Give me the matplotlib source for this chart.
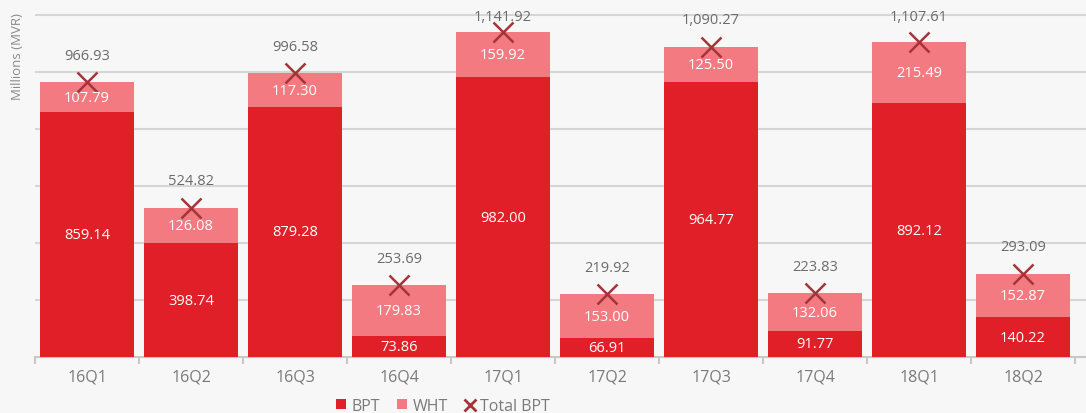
import matplotlib
matplotlib.use("Agg")
import matplotlib.pyplot as plt
from matplotlib.lines import Line2D
from matplotlib.patches import Patch
import numpy as np

categories = ["16Q1", "16Q2", "16Q3", "16Q4", "17Q1", "17Q2", "17Q3", "17Q4", "18Q1", "18Q2"]
bpt = [859.14, 398.74, 879.28, 73.86, 982.00, 66.91, 964.77, 91.77, 892.12, 140.22]
wht = [107.79, 126.08, 117.30, 179.83, 159.92, 153.00, 125.50, 132.06, 215.49, 152.87]
total_bpt = [966.93, 524.82, 996.58, 253.69, 1141.92, 219.92, 1090.27, 223.83, 1107.61, 293.09]

plt.rcParams['font.family'] = ['Open Sans', 'DejaVu Sans']

C_BPT = "#e01f28"
C_WHT = "#f27a80"
C_X = "#a3353a"
C_TXT = "#6b6b6b"

fig = plt.figure(figsize=(10.86, 4.14), dpi=100, facecolor="#f7f7f7")
ax = fig.add_axes([35/1086, (414-358)/414, (1086-35)/1086, (358-15)/414])
ax.set_facecolor("none")

x = np.arange(len(categories))
w = 0.91
ax.bar(x, bpt, w, color=C_BPT, zorder=3)
ax.bar(x, wht, w, bottom=bpt, color=C_WHT, zorder=3)
ax.plot(x, total_bpt, linestyle="none", marker="x", markersize=15, markeredgewidth=1.8,
        color=C_X, zorder=4)

for i in range(len(categories)):
    ax.text(x[i], bpt[i] / 2, f"{bpt[i]:,.2f}", ha="center", va="center",
            color="white", fontsize=10.5, zorder=5)
    ax.text(x[i], bpt[i] + wht[i] / 2, f"{wht[i]:,.2f}", ha="center", va="center",
            color="white", fontsize=10.5, zorder=5)
    ax.text(x[i], min(total_bpt[i] + 94, 1195), f"{total_bpt[i]:,.2f}", ha="center",
            va="center", color=C_TXT, fontsize=10.5, zorder=5)

ax.set_ylim(0, 1205)
ax.set_xlim(-0.5, 9.5 + 11/104)
ax.set_yticks(np.arange(200, 1201, 200))
ax.yaxis.grid(True, color="#d6d6d6", linewidth=1.5, zorder=0)
ax.tick_params(axis="y", length=0, labelleft=False)

ax.set_xticks(x)
ax.set_xticklabels(categories, fontsize=11.5, color="#7a7a7a")
ax.tick_params(axis="x", which="major", length=0, pad=8)
ax.set_xticks(np.arange(-0.5, 10, 1), minor=True)
ax.tick_params(axis="x", which="minor", length=5, width=1.5, color="#c8c8c8")

for s in ["top", "right", "left"]:
    ax.spines[s].set_visible(False)
ax.spines["bottom"].set_color("#c8c8c8")
ax.spines["bottom"].set_linewidth(1.5)

fig.text(18/1086, (414-57)/414, "Millions (MVR)", rotation=90, ha="center", va="center",
         fontsize=9.5, color="#8a8a8a")

handles = [Patch(facecolor=C_BPT, edgecolor="none"),
           Patch(facecolor=C_WHT, edgecolor="none"),
           Line2D([0], [0], linestyle="none", marker="x", markersize=8,
                  markeredgewidth=2, color=C_X)]
fig.legend(handles, ["BPT", "WHT", "Total BPT"], loc="center",
           bbox_to_anchor=(443/1086, (414-407)/414), ncol=3, frameon=False,
           fontsize=11.5, handlelength=0.6, handleheight=0.6, handletextpad=0.35,
           columnspacing=1.1, labelcolor="#7a7a7a")

fig.savefig("out.png", dpi=100, facecolor=fig.get_facecolor())
